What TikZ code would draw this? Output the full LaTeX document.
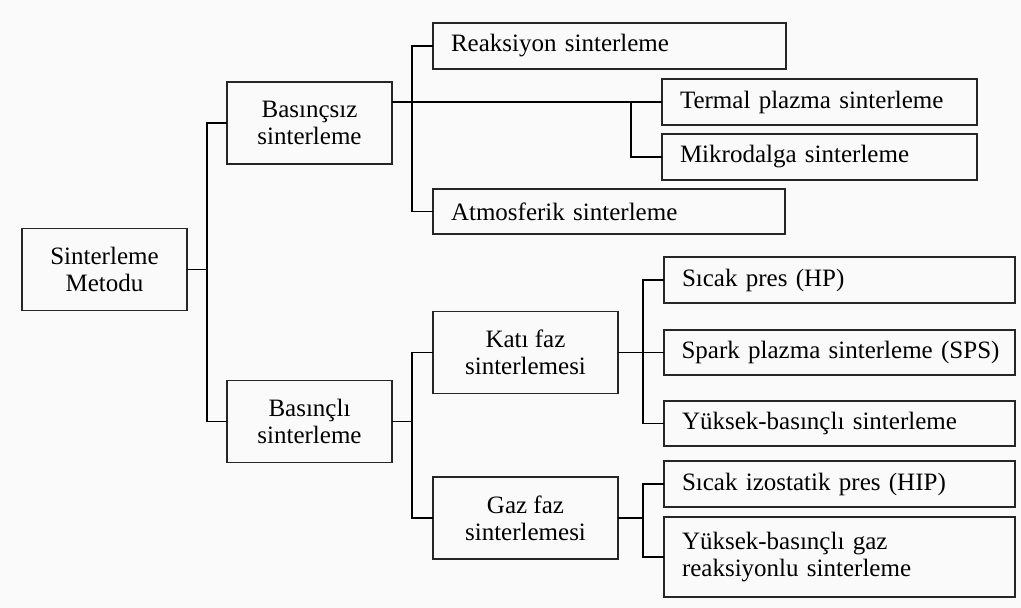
\documentclass[tikz,border=0pt]{standalone}
\usepackage{fontspec}
\setmainfont{Liberation Serif}
\begin{document}
\begin{tikzpicture}[x=1pt,y=1pt]
        \tikzstyle{block} = [rectangle, draw=black!85, line width=1.2, text=black, outer sep=0, inner sep=0, font=\fontsize{25}{27}\selectfont]
        \tikzstyle{mid} = [block, align=center, minimum width=165, minimum height=82]
        \tikzstyle{leaf} = [block, anchor=west, align=left, inner xsep=18, minimum height=46]
        \tikzstyle{line} = [draw=black, line width=1.8]
        \fill[black!2] (0,0) rectangle (1021,-608);
        \useasboundingbox (0,0) rectangle (1021,-608);
        \node[mid] (root) at (104.5,-269.5) {Sinterleme\\Metodu};
        \node[mid] (nopress) at (309.5,-123) {Basınçsız\\sinterleme};
        \node[mid] (press) at (309.5,-421.5) {Basınçlı\\sinterleme};
        \node[leaf,text width=317] (reak) at (433,-46) {Reaksiyon sinterleme};
        \node[leaf,text width=316,minimum height=45] (atmos) at (433,-211.5) {Atmosferik sinterleme};
        \node[leaf,text width=279] (termal) at (662,-102) {Termal plazma sinterleme};
        \node[leaf,text width=279] (mikro) at (662,-157) {Mikrodalga sinterleme};
        \node[mid,minimum width=185] (kati) at (525.5,-352.5) {Katı faz\\sinterlemesi};
        \node[mid,minimum width=185] (gaz) at (525.5,-518) {Gaz faz\\sinterlemesi};
        \node[leaf,text width=315] (hp) at (664,-280) {Sıcak pres (HP)};
        \node[leaf,text width=322,inner xsep=14.5,minimum height=45] (sps) at (664,-352.5) {\hspace*{3pt}Spark plazma sinterleme (SPS)};
        \node[leaf,text width=315,minimum height=45] (yuksek) at (664,-423.5) {Yüksek-basınçlı sinterleme};
        \node[leaf,text width=315] (hip) at (664,-484) {Sıcak izostatik pres (HIP)};
        \node[leaf,text width=315,minimum height=80] (gazreak) at (664,-557) {Yüksek-basınçlı gaz\\reaksiyonlu sinterleme};
        \draw[line] (root.east) -- ++(20,0) |- (nopress.west);
        \draw[line] (root.east) -- ++(20,0) |- (press.west);
        \draw[line] (reak.west) -- ++(-21,0) |- (atmos.west);
        \draw[line] (nopress.east |- termal.west) -- (termal.west);
        \draw[line] ([xshift=-31]termal.west) |- (mikro.west);
        \draw[line] (press.east) -- ++(20,0) |- (kati.west);
        \draw[line] (press.east) -- ++(20,0) |- (gaz.west);
        \draw[line] (kati.east) -- ++(25,0) |- (hp.west);
        \draw[line] (kati.east) -- (sps.west);
        \draw[line] (kati.east) -- ++(25,0) |- (yuksek.west);
        \draw[line] (gaz.east) -- ++(25,0) |- (hip.west);
        \draw[line] (gaz.east) -- ++(25,0) |- (gazreak.west);
    \end{tikzpicture}
\end{document}
